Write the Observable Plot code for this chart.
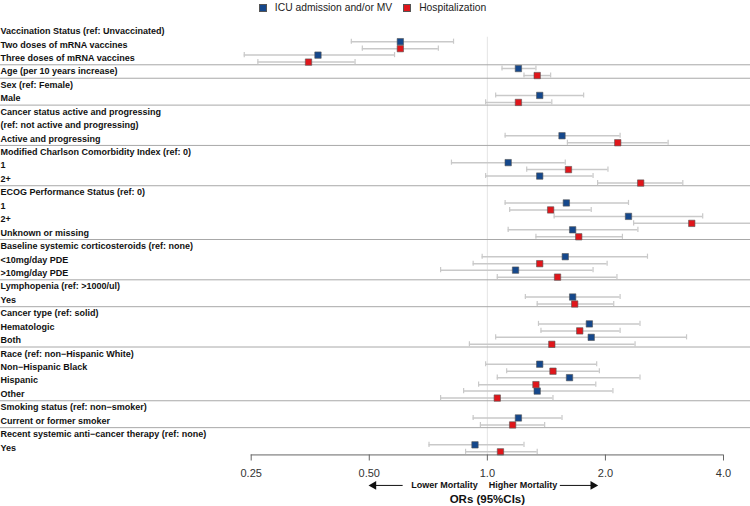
<!DOCTYPE html>
<html>
<head>
<meta charset="utf-8">
<script src="https://cdn.jsdelivr.net/npm/d3@7"></script>
<script src="https://cdn.jsdelivr.net/npm/@observablehq/plot@0.6"></script>
<style>
  html, body { margin: 0; padding: 0; background: #fff; }
  body { width: 750px; height: 506px; overflow: hidden; font-family: "Liberation Sans", Arial, sans-serif; }
  #legend { height: 15px; display: flex; justify-content: center; align-items: center; font-size: 10.3px; color: #222; padding-right: 5px; }
  #legend .sw { width: 8px; height: 8px; display: inline-block; margin-right: 8px; box-sizing: border-box; border: 0.6px solid #555; }
  #legend .item { display: flex; align-items: center; margin-right: 11px; }
  #legend .item:last-child { margin-right: 0; }
  #chart svg { display: block; }
</style>
</head>
<body>
<div id="legend"></div>
<div id="chart"></div>
<script>
// ---- Data ----
const rowLabels = [
  "Vaccination Status (ref: Unvaccinated)",
  "Two doses of mRNA vaccines",
  "Three doses of mRNA vaccines",
  "Age (per 10 years increase)",
  "Sex (ref: Female)",
  "Male",
  "Cancer status active and progressing",
  "(ref: not active and progressing)",
  "Active and progressing",
  "Modified Charlson Comorbidity Index (ref: 0)",
  "1",
  "2+",
  "ECOG Performance Status (ref: 0)",
  "1",
  "2+",
  "Unknown or missing",
  "Baseline systemic corticosteroids (ref: none)",
  "<10mg/day PDE",
  ">10mg/day PDE",
  "Lymphopenia (ref: >1000/ul)",
  "Yes",
  "Cancer type (ref: solid)",
  "Hematologic",
  "Both",
  "Race (ref: non\u2212Hispanic White)",
  "Non\u2212Hispanic Black",
  "Hispanic",
  "Other",
  "Smoking status (ref: non\u2212smoker)",
  "Current or former smoker",
  "Recent systemic anti\u2212cancer therapy (ref: none)",
  "Yes"
];
// index of the last row of each group (a separator is drawn after it)
const groupEnds = [2, 3, 5, 8, 11, 15, 18, 20, 23, 27, 29];
// rows that carry estimates
const estRows = [1, 2, 3, 5, 8, 10, 11, 13, 14, 15, 17, 18, 20, 22, 23, 25, 26, 27, 29, 31];

const seriesNames = ["ICU admission and/or MV", "Hospitalization"];
const icuOR = [0.60, 0.37, 1.20, 1.36, 1.55, 1.13, 1.36, 1.59, 2.29, 1.65, 1.58, 1.18, 1.65, 1.82, 1.84, 1.36, 1.62, 1.34, 1.20, 0.93];
const icuLo = [0.45, 0.24, 1.09, 1.05, 1.11, 0.81, 0.99, 1.11, 1.48, 1.13, 0.97, 0.76, 1.25, 1.35, 1.05, 0.99, 1.06, 0.87, 0.92, 0.71];
const icuHi = [0.82, 0.58, 1.33, 1.76, 2.18, 1.58, 1.86, 2.29, 3.54, 2.42, 2.56, 1.86, 2.18, 2.45, 3.22, 1.90, 2.45, 2.09, 1.55, 1.24];
const hospOR = [0.60, 0.35, 1.34, 1.20, 2.15, 1.61, 2.46, 1.45, 3.32, 1.71, 1.36, 1.51, 1.67, 1.72, 1.46, 1.47, 1.33, 1.06, 1.16, 1.08];
const hospLo = [0.48, 0.26, 1.24, 0.99, 1.60, 1.26, 1.91, 1.14, 2.36, 1.33, 0.92, 1.06, 1.34, 1.37, 0.90, 1.12, 0.95, 0.76, 0.96, 0.88];
const hospHi = [0.75, 0.46, 1.45, 1.46, 2.89, 2.03, 3.15, 1.84, 4.70, 2.21, 2.02, 2.14, 2.10, 2.18, 2.38, 1.93, 1.89, 1.47, 1.40, 1.34];

const tickValues = [0.25, 0.5, 1, 2, 4];
const tickLabels = ["0.25", "0.50", "1.0", "2.0", "4.0"];
const arrowLabels = ["Lower Mortality", "Higher Mortality"];
const xLabel = "ORs (95%CIs)";

// ---- Styling ----
const BLUE = "#15488c";
const RED = "#e0161b";
const colors = [BLUE, RED];
const offsets = [-0.22, 0.30];
const FONT = '"Liberation Sans", Arial, sans-serif';

// legend
const legend = document.getElementById("legend");
seriesNames.forEach((n, i) => {
  const it = document.createElement("span");
  it.className = "item";
  it.innerHTML = `<span class="sw" style="background:${colors[i]}"></span><span>${n}</span>`;
  legend.appendChild(it);
});

// build tables
const seriesData = [[icuOR, icuLo, icuHi], [hospOR, hospLo, hospHi]];
const est = seriesData.flatMap((s, k) => estRows.map((r, i) => ({
  y: r + offsets[k], or: s[0][i], lo: s[1][i], hi: s[2][i], color: colors[k]
})));
const caps = est.flatMap(d => [{x: d.lo, y: d.y}, {x: d.hi, y: d.y}]);
const labelRows = rowLabels.map((t, i) => ({t, i}));
const sepRows = groupEnds.map(g => g + 0.5);

// layout constants in row units
const nRows = rowLabels.length;
const AXIS_ROW = nRows - 1 + 0.53;
const REF_TOP = 0.45;
const ARROW_ROW = nRows - 1 + 2.80;
const TITLE_ROW = nRows - 1 + 3.80;
const CAP = 0.19;

const leftTri = {draw(ctx, size) { const h = Math.sqrt(size / (Math.sqrt(3) * 3)); const s3 = Math.sqrt(3);
  ctx.moveTo(-2 * h, 0); ctx.lineTo(h, -s3 * h); ctx.lineTo(h, s3 * h); ctx.closePath(); }};
const rightTri = {draw(ctx, size) { const h = Math.sqrt(size / (Math.sqrt(3) * 3)); const s3 = Math.sqrt(3);
  ctx.moveTo(2 * h, 0); ctx.lineTo(-h, -s3 * h); ctx.lineTo(-h, s3 * h); ctx.closePath(); }};

const chart = Plot.plot({
  width: 750,
  height: 491,
  marginLeft: 0,
  marginRight: 0,
  marginTop: 0,
  marginBottom: 51.5,
  style: {fontFamily: FONT, background: "#fff"},
  x: {type: "log", domain: [0.25, 4], range: [250.7, 723]},
  y: {domain: [0, nRows - 1], range: [15.7, 432.3], axis: null},
  marks: [
    Plot.ruleX([1], {y1: REF_TOP, y2: AXIS_ROW, stroke: "#e4e4e4", strokeWidth: 1}),
    Plot.ruleY(sepRows, {stroke: "#a8a8a8", strokeWidth: 1}),
    Plot.text(labelRows, {y: "i", text: "t", frameAnchor: "left", textAnchor: "start", fontWeight: "bold", fontSize: 9, fill: "#111"}),
    Plot.ruleY(est, {y: "y", x1: "lo", x2: "hi", stroke: "#c9c9c9", strokeWidth: 1.5}),
    Plot.ruleX(caps, {x: "x", y1: d => d.y - CAP, y2: d => d.y + CAP, stroke: "#c9c9c9", strokeWidth: 1.2}),
    Plot.dot(est, {x: "or", y: "y", symbol: "square", r: 3.6, fill: "color", stroke: "#555", strokeWidth: 0.6}),
    // axis
    Plot.ruleY([AXIS_ROW], {x1: tickValues[0], x2: tickValues[tickValues.length - 1], stroke: "#666", strokeWidth: 1}),
    Plot.axisX(tickValues, {tickFormat: d => tickLabels[tickValues.indexOf(d)], tickSize: 6, tickPadding: 8.5, fontSize: 11, stroke: "#666", fill: "#333", strokeOpacity: 1}),
    // direction arrows
    Plot.ruleY([{a: 0.513, b: 0.61}, {a: 1.535, b: 1.86}], {y: ARROW_ROW, x1: "a", x2: "b", stroke: "#111", strokeWidth: 1}),
    Plot.dot([0.513], {x: d => d, y: ARROW_ROW, symbol: leftTri, r: 3.3, fill: "#111", stroke: "none"}),
    Plot.dot([1.86], {x: d => d, y: ARROW_ROW, symbol: rightTri, r: 3.3, fill: "#111", stroke: "none"}),
    Plot.text([arrowLabels[0]], {x: 1, y: ARROW_ROW, text: d => d, dx: -9.6, textAnchor: "end", fontWeight: "bold", fontSize: 9, fill: "#111"}),
    Plot.text([arrowLabels[1]], {x: 1, y: ARROW_ROW, text: d => d, dx: 1.4, textAnchor: "start", fontWeight: "bold", fontSize: 9, fill: "#111"}),
    Plot.text([xLabel], {x: 1, y: TITLE_ROW, text: d => d, fontWeight: "bold", fontSize: 11.5, fill: "#111"})
  ]
});
document.getElementById("chart").appendChild(chart);
</script>
</body>
</html>
